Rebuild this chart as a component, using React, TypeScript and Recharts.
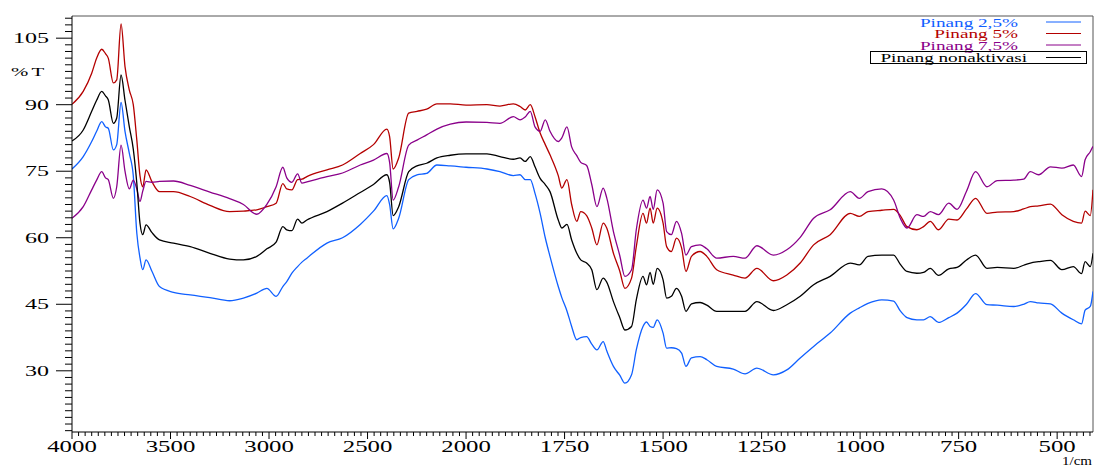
import { LineChart, Line, XAxis, YAxis, ReferenceLine } from 'recharts'

// FTIR spectra, wavenumber in 1/cm, transmittance in %T
const wavenumbers = [
  4000, 3943, 3900, 3875, 3849, 3830, 3816, 3790, 3773, 3751,
  3731, 3709, 3689, 3671, 3655, 3641, 3624, 3595, 3556, 3485,
  3400, 3300, 3200, 3130, 3062, 3011, 2964, 2930, 2910, 2884,
  2855, 2833, 2808, 2706, 2627, 2537, 2470, 2402, 2388, 2370,
  2342, 2291, 2249, 2200, 2148, 2080, 2000, 1947, 1914, 1880,
  1863, 1850, 1837, 1825, 1812, 1799, 1787, 1766, 1757, 1744,
  1732, 1719, 1709, 1694, 1681, 1668, 1652, 1643, 1626, 1610,
  1597, 1580, 1568, 1551, 1542, 1533, 1525, 1515, 1500, 1491,
  1479, 1466, 1453, 1442, 1428, 1406, 1389, 1364, 1322, 1292,
  1262, 1220, 1186, 1152, 1118, 1076, 1025, 1002, 980, 945,
  915, 898, 881, 856, 839, 822, 801, 775, 754, 730,
  707, 678, 652, 610, 585, 568, 547, 517, 488, 459,
  438, 429, 416, 409,
]

const pinang25 = [
  75.5, 78.3, 81.7, 84.0, 86.2, 85.0, 84.7, 79.8, 81.0, 90.5,
  84.0, 79.0, 74.0, 61.0, 55.5, 52.8, 55.0, 52.5, 49.0, 47.7,
  47.1, 46.5, 45.8, 46.4, 47.5, 48.6, 46.8, 49.0, 50.1, 52.0,
  53.5, 54.5, 55.4, 58.8, 60.0, 63.0, 66.0, 69.5, 67.5, 62.0,
  64.4, 73.1, 74.2, 74.5, 76.4, 76.2, 75.9, 75.5, 74.9, 74.0,
  74.2, 73.1, 73.1, 70.0, 65.5, 60.0, 55.8, 49.0, 46.5, 43.5,
  40.0, 37.0, 37.5, 37.7, 36.0, 34.7, 36.6, 34.5, 31.0, 29.0,
  27.2, 29.1, 34.7, 40.0, 41.0, 40.0, 39.8, 41.5, 38.5, 35.1,
  35.2, 35.0, 34.0, 31.0, 32.9, 33.2, 32.5, 31.0, 30.4, 29.3,
  30.6, 29.1, 30.2, 32.9, 35.5, 38.5, 43.0, 44.2, 45.2, 46.0,
  45.7, 43.5, 42.0, 41.5, 41.5, 42.2, 40.9, 42.0, 43.0, 45.0,
  47.4, 44.9, 44.8, 44.5, 45.0, 45.6, 45.3, 45.1, 43.0, 41.5,
  40.6, 43.7, 44.5, 47.9,
]

const pinang5 = [
  90.1, 93.0, 97.1, 100.5, 102.5, 101.5, 100.5, 94.9, 95.6, 108.2,
  98.6, 93.3, 90.0, 82.0, 74.0, 71.5, 75.3, 72.7, 70.4, 70.4,
  69.3, 67.3, 65.9, 66.0, 66.3, 67.0, 67.8, 72.2, 71.0, 70.8,
  73.1, 73.2, 73.8, 75.3, 76.4, 79.0, 81.0, 84.5, 82.8, 75.5,
  78.0, 88.1, 88.5, 89.0, 90.2, 90.2, 89.9, 90.0, 89.7, 90.2,
  89.6, 88.8, 90.0, 87.3, 83.6, 81.0, 78.7, 74.0, 71.2, 73.1,
  67.5, 63.7, 65.9, 65.0, 62.2, 58.4, 63.3, 62.2, 56.5, 52.5,
  48.6, 50.9, 58.0, 65.5, 63.3, 66.7, 63.3, 66.7, 63.3, 58.0,
  56.9, 59.9, 57.7, 52.4, 55.8, 56.9, 55.8, 52.8, 51.6, 50.9,
  53.1, 50.3, 51.6, 54.3, 58.4, 60.7, 65.5, 64.8, 65.9, 66.2,
  66.4, 65.0, 62.5, 61.8, 62.5, 63.7, 61.8, 64.2, 64.0, 66.5,
  68.9, 65.5, 65.8, 65.9, 66.5, 67.0, 67.2, 67.6, 65.2, 63.7,
  63.3, 66.0, 65.0, 70.8,
]

const pinang75 = [
  64.4, 67.0, 70.8, 73.0, 74.9, 73.5, 73.1, 68.9, 71.5, 80.9,
  75.0, 71.0, 73.0, 71.0, 68.2, 70.5, 72.7, 72.5, 72.7, 72.8,
  71.8, 70.3, 68.8, 67.5, 65.3, 67.5, 71.5, 75.9, 73.5, 72.5,
  74.4, 72.3, 72.6, 73.8, 74.6, 76.4, 77.5, 79.0, 77.0, 68.5,
  71.5, 80.9, 82.0, 83.2, 84.5, 85.6, 86.1, 86.0, 85.8, 87.3,
  86.6, 87.2, 88.5, 85.0, 84.0, 86.6, 84.0, 81.7, 82.5, 85.0,
  80.5, 78.5, 77.0, 76.3, 72.0, 67.0, 71.2, 69.0, 61.4, 56.0,
  51.3, 52.8, 61.8, 68.5, 66.7, 69.3, 66.4, 70.8, 67.8, 61.4,
  60.7, 63.7, 61.0, 56.1, 58.0, 58.4, 57.5, 55.4, 55.8, 55.4,
  58.2, 56.1, 57.3, 60.1, 64.4, 66.3, 70.4, 68.9, 70.4, 71.0,
  68.5, 64.4, 62.2, 65.2, 64.8, 65.9, 65.2, 67.8, 66.4, 70.5,
  74.9, 71.5, 72.9, 73.0, 73.2, 74.9, 74.2, 76.0, 75.7, 76.4,
  73.8, 77.6, 79.4, 80.6,
]

const pinangNon = [
  81.8, 84.3, 88.5, 91.0, 93.0, 92.0, 91.1, 85.8, 87.0, 96.7,
  91.0, 85.0, 80.0, 72.3, 63.3, 60.7, 62.9, 61.2, 59.5, 58.8,
  58.0, 56.5, 55.2, 55.0, 55.8, 57.5, 59.0, 62.5, 61.8, 61.6,
  64.2, 63.3, 64.0, 65.9, 67.8, 70.2, 72.0, 74.2, 72.5, 65.0,
  67.0, 74.9, 76.2, 76.8, 78.0, 78.6, 78.9, 78.9, 78.3, 77.7,
  78.0, 77.2, 78.3, 76.0, 73.4, 72.0, 70.4, 64.0, 62.2, 63.0,
  59.5, 56.5, 55.0, 54.3, 52.8, 48.3, 50.9, 50.0, 45.6, 42.0,
  39.2, 40.0, 46.0, 51.3, 49.4, 52.2, 49.5, 53.1, 50.5, 46.4,
  46.8, 48.6, 46.8, 43.4, 45.1, 45.4, 44.8, 43.4, 43.4, 43.4,
  45.6, 43.6, 44.9, 46.8, 49.4, 51.3, 54.3, 53.9, 55.8, 56.1,
  56.1, 54.0, 52.4, 52.0, 52.2, 53.1, 51.5, 53.0, 53.3, 55.0,
  56.1, 53.1, 53.3, 53.1, 53.8, 54.3, 54.6, 54.9, 52.8, 53.5,
  51.9, 54.6, 53.5, 56.5,
]

const xMajorLabels = [4000, 3500, 3000, 2500, 2000, 1750, 1500, 1250, 1000, 750, 500]
const yMajorLabels = [30, 45, 60, 75, 90, 105]

const series = [
  { key: 'p25', name: 'Pinang 2,5%', color: '#1060ff', values: pinang25 },
  { key: 'p5', name: 'Pinang 5%', color: '#b40000', values: pinang5 },
  { key: 'p75', name: 'Pinang 7,5%', color: '#8a008a', values: pinang75 },
  { key: 'pn', name: 'Pinang nonaktivasi', color: '#000000', values: pinangNon },
]

// the spectrometer axis doubles its scale below 2000 1/cm
const toAxis = (wn: number) => (wn >= 2000 ? (4000 - wn) / 2 : 1000 + (2000 - wn))
const fromAxis = (t: number) => Math.round(t <= 1000 ? 4000 - 2 * t : 2000 - (t - 1000))

const data = wavenumbers.map((wn, i) => {
  const row: Record<string, number> = { t: toAxis(wn), wn }
  series.forEach(s => { row[s.key] = s.values[i] })
  return row
})

const X_MAX = toAxis(409)
const Y_MIN = 16.2
const Y_MAX = 110

const xTicks: number[] = []
for (let i = 0; i * 250 / 15 <= X_MAX; i++) xTicks.push(i * 250 / 15)
const yTicks: number[] = []
for (let i = 0; 16.5 + i * 1.5 <= 109.6; i++) yTicks.push(Math.round((16.5 + i * 1.5) * 10) / 10)

const isMajorX = (v: number) => xMajorLabels.some(l => Math.abs(toAxis(l) - v) < 1e-6)
const isMajorY = (v: number) => yMajorLabels.some(l => Math.abs(l - v) < 1e-6)

const FONT = "'Liberation Serif', 'Times New Roman', Times, serif"

function XTick(props: any) {
  const { x, y, payload } = props
  const major = isMajorX(payload.value)
  return (
    <g>
      <line x1={x} y1={y} x2={x} y2={y + (major ? 7 : 4)} stroke="#000" strokeWidth={1} />
      {major && (
        <text transform={`translate(${x},${y + 19.5}) scale(1.55,1)`} textAnchor="middle"
          fontFamily={FONT} fontSize={16} fill="#000">
          {fromAxis(payload.value)}
        </text>
      )}
    </g>
  )
}

function YTick(props: any) {
  const { x, y, payload } = props
  const major = isMajorY(payload.value)
  return (
    <g>
      <line x1={x} y1={y} x2={x - (major ? 16 : 7)} y2={y} stroke="#000" strokeWidth={1} />
      {major && (
        <text transform={`translate(${x - 23},${y + 5}) scale(1.6,1)`} textAnchor="end"
          fontFamily={FONT} fontSize={15} fill="#000">
          {payload.value}
        </text>
      )}
    </g>
  )
}

const legendRows = [
  { lineY: 22, textY: 26.5, textEnd: 1018 },
  { lineY: 33.5, textY: 38, textEnd: 1018 },
  { lineY: 45, textY: 49.5, textEnd: 1018 },
  { lineY: 57.5, textY: 61.5, textEnd: 1027 },
]

export default function App() {
  return (
    <div style={{ position: 'absolute', left: 0, top: 0, width: 1097, height: 468, background: '#fff' }}>
      <LineChart width={1097} height={468} data={data}
        margin={{ top: 16, right: 4, bottom: 6, left: 12 }}>
        <XAxis dataKey="t" type="number" domain={[0, X_MAX]} ticks={xTicks} interval={0}
          tickSize={0} tickMargin={0} tickLine={false} tick={XTick} height={30}
          axisLine={{ stroke: '#000' }} allowDataOverflow />
        <YAxis type="number" domain={[Y_MIN, Y_MAX]} ticks={yTicks} interval={0}
          tickSize={0} tickMargin={0} tickLine={false} tick={YTick} width={60}
          axisLine={{ stroke: '#000' }} allowDataOverflow />
        <ReferenceLine y={Y_MAX} stroke="#555" />
        <ReferenceLine x={X_MAX} stroke="#555" />
        {series.map(s => (
          <Line key={s.key} dataKey={s.key} name={s.name} type="monotone" stroke={s.color}
            strokeWidth={1.3} dot={false} isAnimationActive={false} />
        ))}
      </LineChart>
      <svg width={1097} height={468} style={{ position: 'absolute', left: 0, top: 0, pointerEvents: 'none' }}>
        <text transform="translate(11,76) scale(1.6,1)" fontFamily={FONT} fontSize={13} letterSpacing={2}>%T</text>
        <text transform="translate(1062,465.3) scale(1.25,1)" fontFamily={FONT} fontSize={12}>1/cm</text>
        {series.map((s, i) => (
          <g key={s.key}>
            <text transform={`translate(${legendRows[i].textEnd},${legendRows[i].textY}) scale(1.6,1)`}
              textAnchor="end" fontFamily={FONT} fontSize={12} fill={s.color}>{s.name}</text>
            <line x1={1046} x2={1081} y1={legendRows[i].lineY} y2={legendRows[i].lineY}
              stroke={s.color} strokeWidth={1} />
          </g>
        ))}
        <rect x={870.5} y={51.5} width={216} height={12} fill="none" stroke="#000" strokeWidth={1} />
      </svg>
    </div>
  )
}
